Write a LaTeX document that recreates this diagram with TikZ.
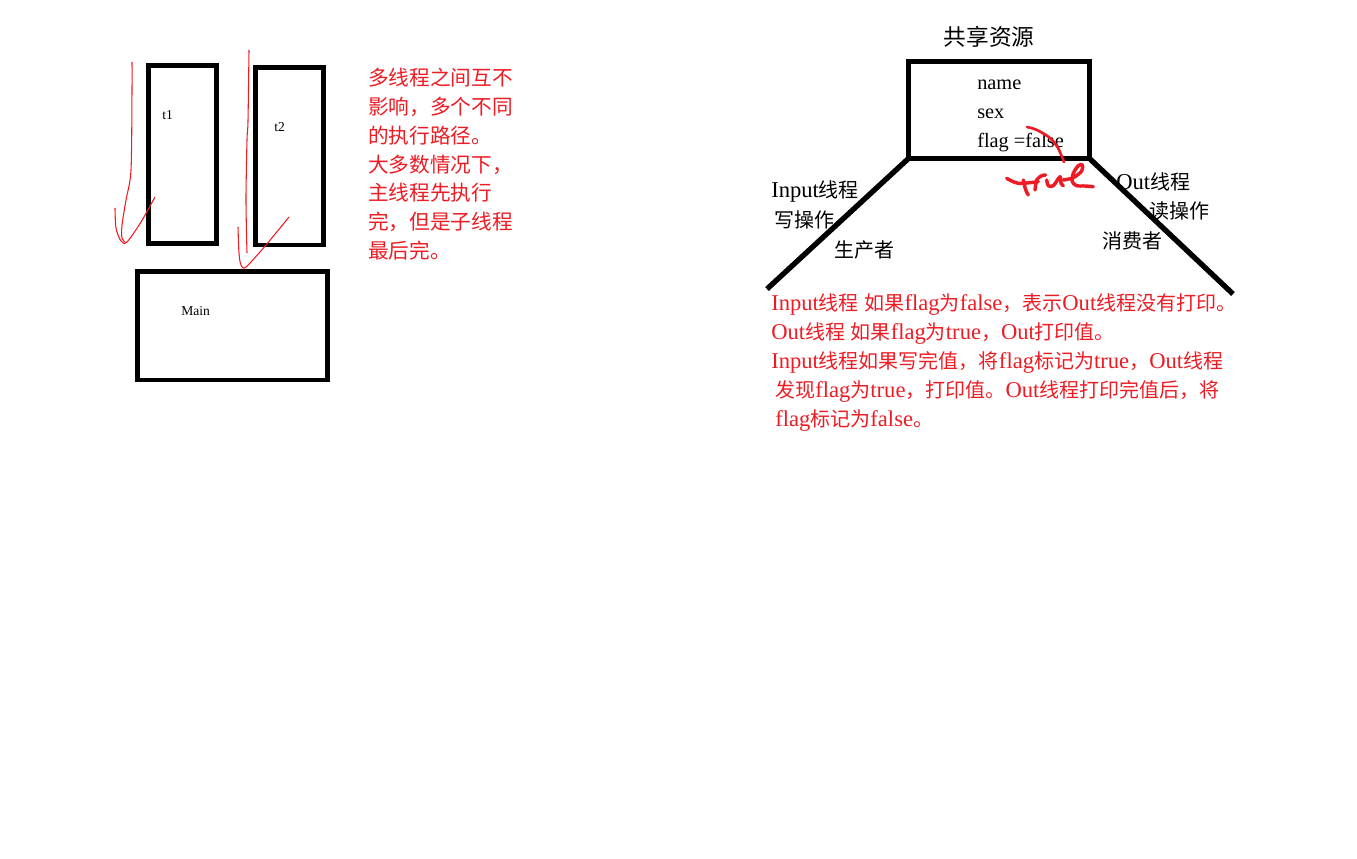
\documentclass[tikz,border=0pt]{standalone}
\usepackage{fontspec}
\setmainfont{Liberation Serif}[Scale=1.13]
\newfontfamily\cjk{Noto Sans CJK SC}
\definecolor{paintred}{RGB}{237,28,36}

% runs of Chinese characters switch to the CJK font by themselves
\XeTeXinterchartokenstate=1
\newXeTeXintercharclass\zhclass
\newcount\zhcode
\zhcode="3000
\loop\ifnum\zhcode<"A000
  \XeTeXcharclass\zhcode=\zhclass
  \advance\zhcode by 1
\repeat
\zhcode="FF00
\loop\ifnum\zhcode<"FFF0
  \XeTeXcharclass\zhcode=\zhclass
  \advance\zhcode by 1
\repeat
\XeTeXinterchartoks 0 \zhclass = {\begingroup\cjk}
\XeTeXinterchartoks 4095 \zhclass = {\begingroup\cjk}
\XeTeXinterchartoks \zhclass 0 = {\endgroup}
\XeTeXinterchartoks \zhclass 4095 = {\endgroup}

\begin{document}
\begin{tikzpicture}[x=0.75pt, y=-0.75pt,
		box/.style={draw, line width=3.5pt, inner sep=0pt, outer sep=0pt},
		leg/.style={line width=4pt},
		pen/.style={paintred, line width=0.8pt},
		ink/.style={paintred, line width=2.6pt, line cap=round, line join=round},
		note/.style={text=paintred, align=left, anchor=north west, inner sep=0pt},
		tag/.style={anchor=west, inner sep=0pt, font=\fontsize{15}{18}\selectfont},
		tiny/.style={anchor=west, inner sep=0pt, font=\fontsize{9}{11}\selectfont}]
		\useasboundingbox (0,0) rectangle (1357,859);
		
		\draw (182.5,154.5) node[box, minimum width=51pt, minimum height=133.1pt] (t1box) {};
		\draw (289.4,156.4) node[box, minimum width=50.9pt, minimum height=132.9pt] (t2box) {};
		\draw (232.6,325.8) node[box, minimum width=142.7pt, minimum height=81.2pt] (mainbox) {};
		\draw (162,115) node[tiny] (t1) {t1};
		\draw (274,127.5) node[tiny] (t2) {t2};
		\draw (181,311.5) node[tiny] (main) {Main};
		
		\draw[pen] plot[smooth] coordinates {(132,62) (132,90) (131,170) (126,200) (122,225) (122,238) (125,242)};
		\draw[pen] plot[smooth] coordinates {(115,208) (116,228) (121,241) (127,242) (141,222) (155,197)};
		\draw[pen] plot[smooth] coordinates {(249,50) (248,121) (247,140) (246,200) (247,253)};
		\draw[pen] plot[smooth] coordinates {(238,227) (239,253) (241,265) (246,267) (266,245) (289,217)};
		
		\draw (368,68) node[note, font=\fontsize{15.5}{21.6}\selectfont] (story) {多线程之间互不\\影响，多个不同\\的执行路径。\\大多数情况下，\\主线程先执行\\完，但是子线程\\最后完。};
		
		\draw (989,36.5) node[inner sep=0pt, font=\fontsize{17}{20}\selectfont] (title) {共享资源};
		\draw (999,110.1) node[box, minimum width=135.8pt, minimum height=72.6pt] (res) {};
		\draw (977,79.3) node[anchor=north west, inner sep=0pt, align=left, font=\fontsize{13.5}{21.75}\selectfont] (fields) {name\\sex\\flag =false};
		
		\coordinate (inend) at (767,289);
		\coordinate (outend) at (1233,294);
		\draw[leg] (res.south west) -- (inend);
		\draw[leg] (res.south east) -- (outend);
		
		\draw (771,191.7) node[tag] (inthread) {Input线程};
		\draw (774,220) node[tag] (write) {写操作};
		\draw (834,249.5) node[tag] (maker) {生产者};
		\draw (1116,182) node[tag] (outthread) {Out线程};
		\draw (1149,211.3) node[tag] (read) {读操作};
		\draw (1102,240.5) node[tag] (taker) {消费者};
		
		\draw[ink, line width=2pt] plot[smooth] coordinates {(1027,127) (1037,130) (1050,138) (1058,148) (1064,162)};
		\draw[ink] plot[smooth] coordinates {(1006.7,178.3) (1018.3,183.3) (1038.3,181.7)};
		\draw[ink] plot[smooth] coordinates {(1023.3,180) (1025.7,190) (1028.3,195)};
		\draw[ink] plot[smooth] coordinates {(1035,190) (1036.7,180) (1041.7,175.7) (1045.7,175)};
		\draw[ink] plot[smooth] coordinates {(1046.7,180) (1048.3,185.7) (1053.3,185.7) (1060,176.7) (1061,183.3) (1063.3,185.7)};
		\draw[ink] plot[smooth] coordinates {(1063.3,180) (1073.3,177.7) (1081.7,171) (1082.3,165) (1078.3,165.7) (1073.3,173.3) (1072.3,181.7) (1076.7,185.7) (1085,186) (1093.3,186.7)};
		
		\draw (771,293) node[note, font=\fontsize{15}{21.9}\selectfont] (rule) {Input线程 如果flag为false，表示Out线程没有打印。\\Out线程 如果flag为true，Out打印值。\\Input线程如果写完值，将flag标记为true，Out线程\\\hspace*{3pt}发现flag为true，打印值。Out线程打印完值后，将\\\hspace*{3pt}flag标记为false。};
	\end{tikzpicture}
\end{document}
